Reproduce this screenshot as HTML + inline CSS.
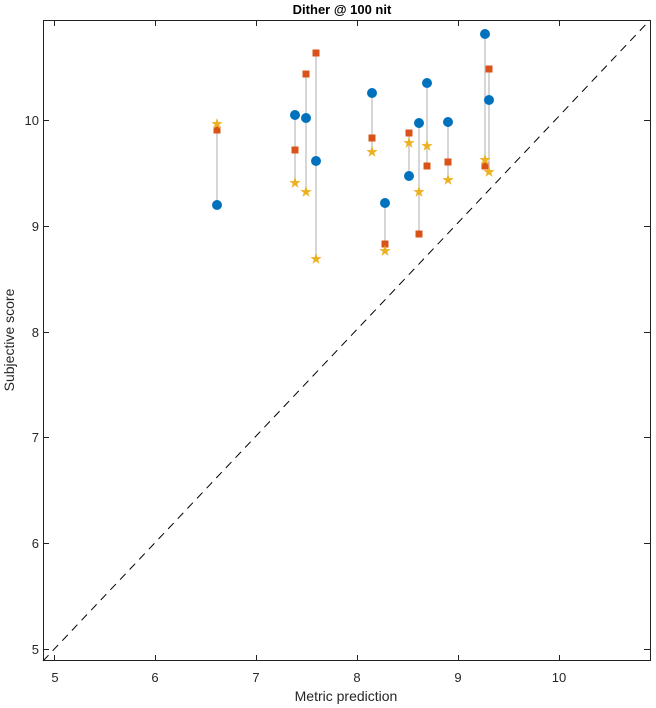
<!DOCTYPE html>
<html><head><style>body{margin:0;background:#fff}svg{display:block}text{font-family:"Liberation Sans",sans-serif}</style></head>
<body>
<svg width="656" height="708" xmlns="http://www.w3.org/2000/svg">
<defs>
<circle id="c" r="5" fill="#0072bd"/>
<rect id="s" x="-3.5" y="-3.5" width="7" height="7" fill="#d95319"/>
<polygon id="t" fill="#edb120" points="0,-6 1.4,-1.9 5.7,-1.9 2.2,0.7 3.5,4.9 0,2.3 -3.5,4.9 -2.2,0.7 -5.7,-1.9 -1.4,-1.9"/>
</defs>
<text x="342" y="14" font-size="13" font-weight="bold" text-anchor="middle">Dither @ 100 nit</text>
<line x1="43" y1="661" x2="650" y2="20" stroke="#000" stroke-dasharray="8,6" stroke-width="1"/>
<g stroke="#c8c8c8" stroke-width="1.5">
<line x1="217" y1="124" x2="217" y2="205"/>
<line x1="295" y1="115" x2="295" y2="183"/>
<line x1="306" y1="74" x2="306" y2="192"/>
<line x1="316" y1="53" x2="316" y2="259"/>
<line x1="372" y1="93" x2="372" y2="152"/>
<line x1="385" y1="203" x2="385" y2="251"/>
<line x1="409" y1="133" x2="409" y2="176"/>
<line x1="419" y1="123" x2="419" y2="234"/>
<line x1="427" y1="83" x2="427" y2="166"/>
<line x1="448" y1="122" x2="448" y2="180"/>
<line x1="485" y1="34" x2="485" y2="166"/>
<line x1="489" y1="69" x2="489" y2="172"/>
</g>
<use href="#c" x="217" y="205"/><use href="#s" x="217" y="130"/><use href="#t" x="217" y="124"/>
<use href="#c" x="295" y="115"/><use href="#s" x="295" y="150"/><use href="#t" x="295" y="183"/>
<use href="#c" x="306" y="118"/><use href="#s" x="306" y="74"/><use href="#t" x="306" y="192"/>
<use href="#c" x="316" y="161"/><use href="#s" x="316" y="53"/><use href="#t" x="316" y="259"/>
<use href="#c" x="372" y="93"/><use href="#s" x="372" y="138"/><use href="#t" x="372" y="152"/>
<use href="#c" x="385" y="203"/><use href="#s" x="385" y="244"/><use href="#t" x="385" y="251"/>
<use href="#c" x="409" y="176"/><use href="#s" x="409" y="133"/><use href="#t" x="409" y="143"/>
<use href="#c" x="419" y="123"/><use href="#s" x="419" y="234"/><use href="#t" x="419" y="192"/>
<use href="#c" x="427" y="83"/><use href="#s" x="427" y="166"/><use href="#t" x="427" y="146"/>
<use href="#c" x="448" y="122"/><use href="#s" x="448" y="162"/><use href="#t" x="448" y="180"/>
<use href="#c" x="485" y="34"/><use href="#s" x="485" y="166"/><use href="#t" x="485" y="160"/>
<use href="#c" x="489" y="100"/><use href="#s" x="489" y="69"/><use href="#t" x="489" y="172"/>
<rect x="43.5" y="20.5" width="607" height="640" fill="none" stroke="#222" stroke-width="1"/>
<g stroke="#222" stroke-width="1">
<path d="M54.5 661v-6M155.5 661v-6M256.5 661v-6M357.5 661v-6M458.5 661v-6M559.5 661v-6"/>
<path d="M54.5 20v6M155.5 20v6M256.5 20v6M357.5 20v6M458.5 20v6M559.5 20v6"/>
<path d="M43 649.5h6M43 543.5h6M43 437.5h6M43 332.5h6M43 226.5h6M43 120.5h6"/>
<path d="M650 649.5h-6M650 543.5h-6M650 437.5h-6M650 332.5h-6M650 226.5h-6M650 120.5h-6"/>
</g>
<g font-size="13" fill="#262626" text-anchor="middle">
<text x="55" y="682">5</text><text x="155" y="682">6</text><text x="256" y="682">7</text><text x="357" y="682">8</text><text x="458" y="682">9</text><text x="559" y="682">10</text>
</g>
<g font-size="13" fill="#262626" text-anchor="end">
<text x="39" y="654">5</text><text x="39" y="548">6</text><text x="39" y="442">7</text><text x="39" y="337">8</text><text x="39" y="231">9</text><text x="39" y="125">10</text>
</g>
<text x="346" y="701" font-size="14" fill="#262626" text-anchor="middle">Metric prediction</text>
<text x="14" y="340" font-size="14" fill="#262626" text-anchor="middle" transform="rotate(-90 14 340)">Subjective score</text>
</svg>
</body></html>
